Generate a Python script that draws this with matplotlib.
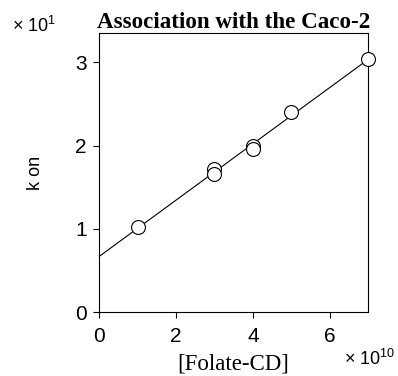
import numpy as np
import matplotlib
matplotlib.use('Agg')
import matplotlib.pyplot as plt

# data (x in units of 1e10, k on in units of 1e1)
folate_cd = [1, 3, 3, 4, 4, 5, 7]
k_on = [1.02, 1.72, 1.66, 2.00, 1.96, 2.40, 3.04]
x_ticks = [0, 2, 4, 6]
y_ticks = [0, 1, 2, 3]

plt.rcParams['font.family'] = 'Liberation Sans'
plt.rcParams['mathtext.default'] = 'regular'

fig = plt.figure(figsize=(3.98, 3.76), dpi=100)
ax = fig.add_axes([0.249, 0.170, 0.676, 0.742])

# linear fit through the points
slope, intercept = np.polyfit(folate_cd, k_on, 1)
xs = np.array([0, 7])
ax.plot(xs, intercept + slope * xs, color='black', linewidth=0.8, zorder=1)
ax.plot(folate_cd, k_on, 'o', markersize=10, markerfacecolor='white',
        markeredgecolor='black', markeredgewidth=0.8, zorder=3, clip_on=False)

ax.set_xlim(0, 7)
ax.set_ylim(0, 3.35)
ax.set_xticks(x_ticks)
ax.set_yticks(y_ticks)
ax.tick_params(direction='out', length=4, width=0.8, labelsize=15, pad=5)
ax.tick_params(axis='x', pad=7)
for s in ax.spines.values():
    s.set_linewidth(0.8)

ax.set_title('Association with the Caco-2', fontfamily='Liberation Serif',
             fontweight='bold', fontsize=16.6, pad=4)
ax.set_xlabel('[Folate-CD]', fontfamily='Liberation Serif', fontsize=16.5, labelpad=5)
ax.set_ylabel('k on', fontsize=13, labelpad=22)

fig.text(0.03, 0.93, '× 10$^{1}$', fontsize=13, va='center', ha='left')
fig.text(0.865, 0.045, '× 10$^{10}$', fontsize=13, va='center', ha='left')

fig.savefig('out.png', dpi=100)
